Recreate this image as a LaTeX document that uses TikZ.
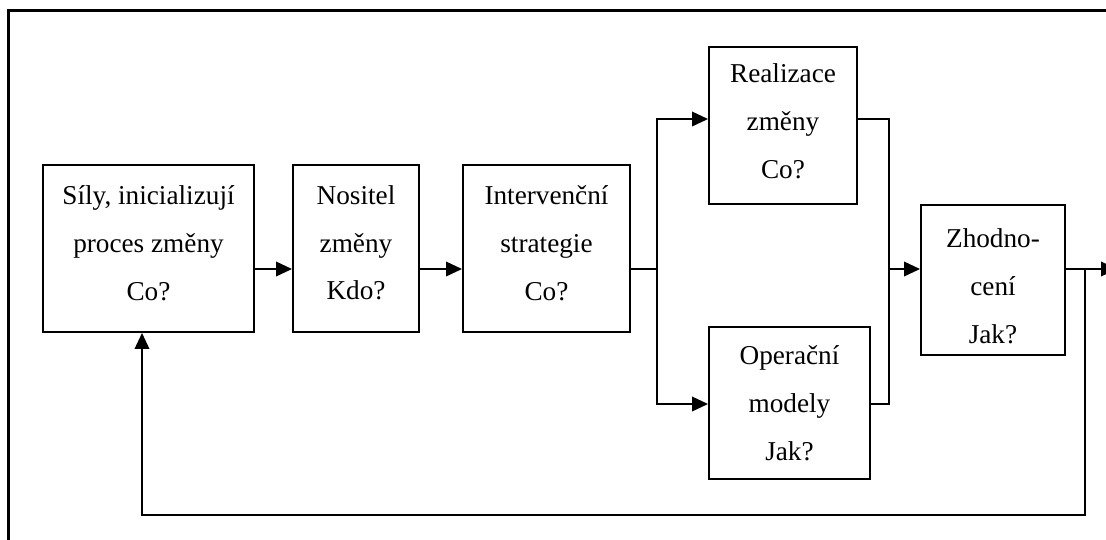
\documentclass[tikz,border=0pt]{standalone}
\usepackage{fontspec}
\setmainfont{Liberation Serif}
\usetikzlibrary{arrows.meta, calc}

\begin{document}
\begin{tikzpicture}[
    x=0.02cm, y=-0.02cm,
    font=\fontsize{15.5}{27.2}\selectfont,
    >={Triangle[length=0.32cm, width=0.29cm]},
    box/.style={draw, line width=1.1pt, align=center, inner sep=0pt},
    lift/.style={text depth=0.23cm},
    link/.style={->, line width=1.1pt},
    wire/.style={line width=1.1pt}
]

\useasboundingbox (0,0) rectangle (1106,539);
\clip (0,0) rectangle (1106,539);

% Frame
\draw[line width=1.7pt] (8.5,10) rectangle (1140,570);

% Nodes
\node[box, lift, minimum width=4.22cm, minimum height=3.34cm] (sily) at (148.5,248.5) {Síly, inicializují\\proces změny\\Co?};
\node[box, lift, minimum width=2.52cm, minimum height=3.34cm] (nositel) at (356,248.5) {Nositel\\změny\\Kdo?};
\node[box, lift, minimum width=3.34cm, minimum height=3.34cm] (interv) at (546.5,248.5) {Intervenční\\strategie\\Co?};
\node[box, text depth=0.18cm, minimum width=2.96cm, minimum height=3.14cm] (realiz) at (783,125.5) {Realizace\\změny\\Co?};
\node[box, minimum width=3.22cm, minimum height=3.04cm] (operac) at (789.5,403) {Operační\\modely\\Jak?};
\node[box, text height=2.55cm, minimum width=2.88cm, minimum height=3.0cm] (zhodn) at (993,280) {Zhodno-\\cení\\Jak?};

% Helper coordinates
\coordinate (axis) at (0,269);
\coordinate (upper) at (0,119);
\coordinate (lower) at (0,404);
\coordinate (split) at (657,269);
\coordinate (merge) at (889,269);
\coordinate (back) at (1085,269);
\coordinate (out) at (1117,269);
\coordinate (ret) at (142,515);

% Arrows
\draw[link] (sily.east |- axis) -- (nositel.west |- axis);
\draw[link] (nositel.east |- axis) -- (interv.west |- axis);
\draw[wire] (interv.east |- axis) -- (split);
\draw[link] (split) |- (realiz.west |- upper);
\draw[link] (split) |- (operac.west |- lower);
\draw[wire] (realiz.east |- upper) -| (merge);
\draw[wire] (operac.east |- lower) -| (merge);
\draw[link] (merge) -- (zhodn.west |- axis);
\draw[link] (zhodn.east |- axis) -- (out);
\draw[link] (back) |- (ret) -- (ret |- sily.south);

\end{tikzpicture}
\end{document}
